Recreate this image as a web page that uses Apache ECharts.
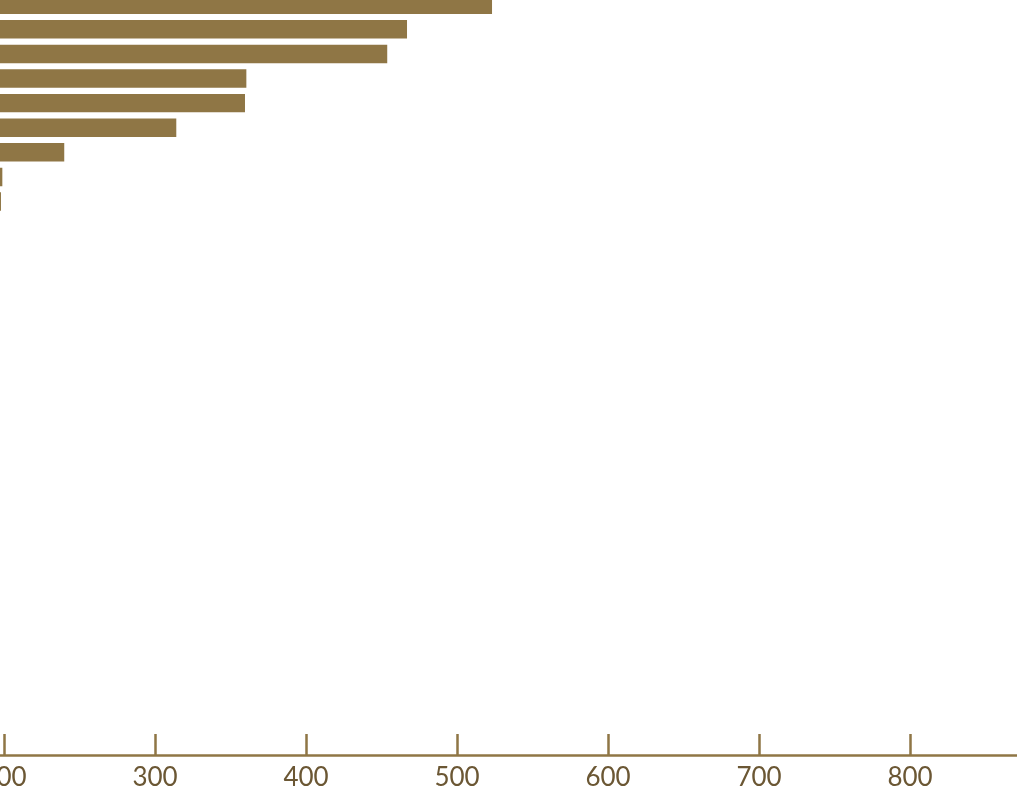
<!DOCTYPE html>
<html>
<head>
<meta charset="utf-8">
<script src="https://cdn.jsdelivr.net/npm/echarts@6/dist/echarts.min.js"></script>
<style>
html,body{margin:0;padding:0;background:#fff;}
#chart{width:1017px;height:795px;}
</style>
</head>
<body>
<div id="chart"></div>
<script>
// Visible bars (top to bottom); remaining categories show no visible bar
const categories = Array.from({length: 31}, (_, i) => 'Item ' + (i + 1));
const visibleValues = [523.2, 466.9, 453.8, 360.5, 359.6, 314.1, 239.9, 198.9, 198.0];
const values = categories.map((c, i) => i < visibleValues.length ? visibleValues[i] : null);
const tickInterval = 100;

const chart = echarts.init(document.getElementById('chart'), null, {renderer: 'canvas'});
chart.setOption({
  animation: false,
  backgroundColor: '#ffffff',
  grid: {left: -298, right: -195, top: -7.55, bottom: 40, containLabel: false, outerBoundsMode: 'none'},
  xAxis: {
    type: 'value',
    min: 0,
    max: 1000,
    interval: tickInterval,
    axisLine: {show: true, lineStyle: {color: '#8f7645', width: 2.5}},
    axisTick: {show: true, inside: true, length: 21, lineStyle: {color: '#8f7645', width: 2.5}},
    axisLabel: {color: '#6b5734', fontSize: 26, fontFamily: 'Lato', fontWeight: 400, margin: 10},
    splitLine: {show: false}
  },
  yAxis: {
    type: 'category',
    data: categories,
    inverse: true,
    axisLine: {show: false},
    axisTick: {show: false},
    axisLabel: {show: false}
  },
  series: [{
    type: 'bar',
    data: values,
    barCategoryGap: '25%',
    itemStyle: {color: '#8f7645'}
  }]
});
</script>
</body>
</html>
